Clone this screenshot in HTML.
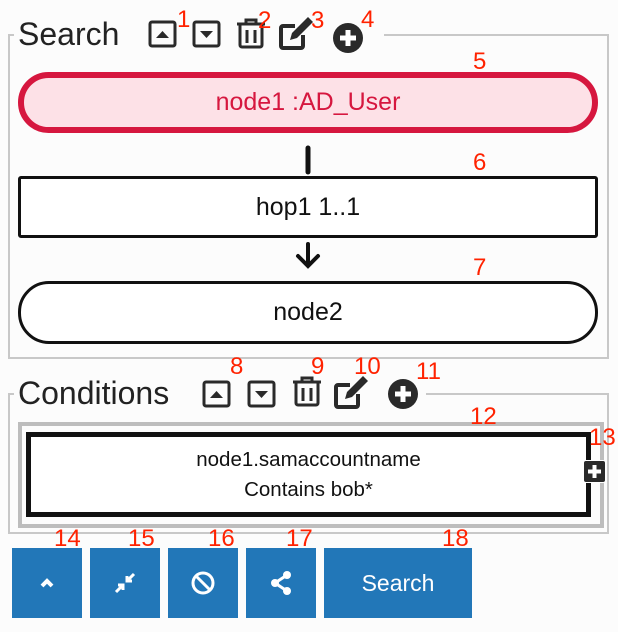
<!DOCTYPE html>
<html><head><meta charset="utf-8"><style>
body{margin:0;width:618px;height:632px;background:#fcfcfc;position:relative;overflow:hidden;font-family:"Liberation Sans",sans-serif}
.a{position:absolute}
.n{position:absolute;color:#ff2200;font-size:24px;line-height:1}
.fs{position:absolute;border:2px solid #c8c8c8}
.t{position:absolute;font-size:32px;color:#222;background:#fcfcfc;line-height:1}
.box{position:absolute;box-sizing:border-box;display:flex;align-items:center;justify-content:center;font-size:25px;color:#111}
.btn{position:absolute;top:548px;height:70px;background:#2277b8;display:flex;align-items:center;justify-content:center;color:#fff}
</style></head><body>
<div class="fs" style="left:8px;top:34px;width:597px;height:321px"></div>
<div class="t" style="left:14px;top:19px;padding:0 4px;width:362px;height:34px"></div>
<div class="t" style="left:18px;top:18px">Search</div>
<svg class="a" style="left:0;top:0" width="618" height="632">
<g fill="none" stroke="#2a2a2a" stroke-width="3">
<rect x="150" y="22" width="25" height="24" rx="2"/><rect x="194" y="22" width="25" height="24" rx="2"/>
</g>
<g fill="#2a2a2a">
<path d="M156 38h13l-6.5-7z"/><path d="M200 31h13l-6.5 7z"/>
</g>
<g fill="none" stroke="#2a2a2a" stroke-width="3">
<path d="M237 24h28M246 24v-4h10v4M240 25v20a2 2 0 0 0 2 2h18a2 2 0 0 0 2-2v-20M247 30v13M255 30v13"/>
</g>
<path d="M295 26h-12a2 2 0 0 0-2 2v18a2 2 0 0 0 2 2h18a2 2 0 0 0 2-2v-11" fill="none" stroke="#2a2a2a" stroke-width="4"/>
<path d="M290 40l2-7 16-16 5 5-16 16z" fill="#2a2a2a"/>
<circle cx="348" cy="38" r="15" fill="#2a2a2a"/><path d="M348 30v16M340 38h16" stroke="#fff" stroke-width="5"/>
<path d="M308 148v24" stroke="#111" stroke-width="5" stroke-linecap="round"/>
<path d="M308 244v20M298 256l10 10 10-10" stroke="#111" stroke-width="4" fill="none" stroke-linecap="round"/>
</svg>
<div class="box" style="left:18px;top:72px;width:580px;height:61px;border:6px solid #d6173f;border-radius:31px;background:#fde1e7;color:#d6173f">node1 :AD_User</div>
<div class="box" style="left:18px;top:176px;width:580px;height:62px;border:3px solid #111;border-radius:3px;background:#fff">hop1 1..1</div>
<div class="box" style="left:18px;top:281px;width:580px;height:63px;border:3px solid #111;border-radius:31px;background:#fff">node2</div>

<div class="fs" style="left:8px;top:393px;width:597px;height:137px"></div>
<div class="t" style="left:14px;top:378px;width:412px;height:34px"></div>
<div class="t" style="left:18px;top:377px">Conditions</div>
<svg class="a" style="left:0;top:0" width="618" height="632">
<g fill="none" stroke="#2a2a2a" stroke-width="3">
<rect x="204" y="382" width="25" height="24" rx="2"/><rect x="249" y="382" width="25" height="24" rx="2"/></g>
<g fill="#2a2a2a"><path d="M210 398h13l-6.5-7z"/><path d="M255 391h13l-6.5 7z"/></g>
<g fill="none" stroke="#2a2a2a" stroke-width="3"><path d="M293 382h28M302 382v-4h10v4M296 383v20a2 2 0 0 0 2 2h18a2 2 0 0 0 2-2v-20M303 388v13M311 388v13"/></g>
<path d="M350 385h-12a2 2 0 0 0-2 2v18a2 2 0 0 0 2 2h18a2 2 0 0 0 2-2v-11" fill="none" stroke="#2a2a2a" stroke-width="4"/>
<path d="M345 399l2-7 16-16 5 5-16 16z" fill="#2a2a2a"/>
<circle cx="403" cy="394" r="15" fill="#2a2a2a"/><path d="M403 386v16M395 394h16" stroke="#fff" stroke-width="5"/>
</svg>
<div class="a" style="left:18px;top:422px;width:586px;height:106px;box-sizing:border-box;border:4px solid #bdbdbd"></div>
<div class="box" style="left:26px;top:432px;width:565px;height:85px;border:5px solid #111;background:#fff;flex-direction:column;font-size:20.5px;line-height:30px">node1.samaccountname<br><span>Contains bob*</span></div>
<div class="a" style="left:583px;top:460px;width:23px;height:23px;background:#2a2a2a;border-radius:3px;border:1px solid #fff;box-sizing:border-box"><svg width="21" height="21"><path d="M10.5 4v13M4 10.5h13" stroke="#fff" stroke-width="4"/></svg></div>

<div class="btn" style="left:12px;width:70px"><svg width="20" height="20"><path d="M5 13l5-5 5 5" fill="none" stroke="#fff" stroke-width="4"/></svg></div>
<div class="btn" style="left:90px;width:70px"><svg width="24" height="24"><path d="M3 21l7-7M5 14h5v5M21 3l-7 7M14 5v5h5" fill="none" stroke="#fff" stroke-width="3"/></svg></div>
<div class="btn" style="left:168px;width:70px"><svg width="26" height="26"><circle cx="13" cy="13" r="10" fill="none" stroke="#fff" stroke-width="3"/><path d="M6 6l14 14" stroke="#fff" stroke-width="3"/></svg></div>
<div class="btn" style="left:246px;width:70px"><svg width="24" height="26"><circle cx="18" cy="5" r="4" fill="#fff"/><circle cx="6" cy="13" r="4" fill="#fff"/><circle cx="18" cy="21" r="4" fill="#fff"/><path d="M18 5L6 13l12 8" stroke="#fff" stroke-width="3" fill="none"/></svg></div>
<div class="btn" style="left:324px;width:148px;font-size:23px">Search</div>

<div class="n" style="left:177px;top:8px">1</div>
<div class="n" style="left:258px;top:9px">2</div>
<div class="n" style="left:311px;top:9px">3</div>
<div class="n" style="left:361px;top:8px">4</div>
<div class="n" style="left:473px;top:50px">5</div>
<div class="n" style="left:473px;top:151px">6</div>
<div class="n" style="left:473px;top:256px">7</div>
<div class="n" style="left:230px;top:355px">8</div>
<div class="n" style="left:311px;top:355px">9</div>
<div class="n" style="left:354px;top:355px">10</div>
<div class="n" style="left:416px;top:360px">11</div>
<div class="n" style="left:470px;top:405px">12</div>
<div class="n" style="left:589px;top:426px">13</div>
<div class="n" style="left:54px;top:527px">14</div>
<div class="n" style="left:128px;top:527px">15</div>
<div class="n" style="left:208px;top:527px">16</div>
<div class="n" style="left:286px;top:527px">17</div>
<div class="n" style="left:442px;top:527px">18</div>
</body></html>
